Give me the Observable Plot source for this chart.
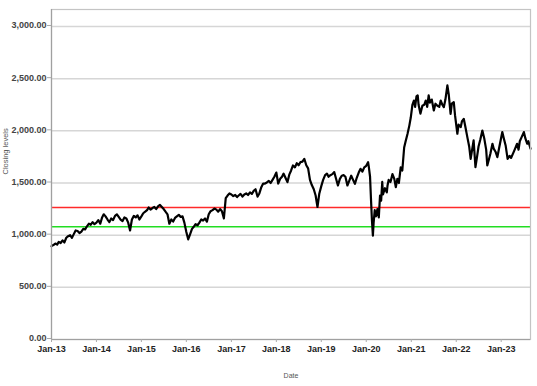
<!DOCTYPE html>
<html>
<head>
<meta charset="utf-8">
<script src="https://cdn.jsdelivr.net/npm/d3@7"></script>
<script src="https://cdn.jsdelivr.net/npm/@observablehq/plot@0.6"></script>
<style>
  html, body { margin: 0; padding: 0; background: #fff; }
</style>
</head>
<body>
<div id="chart"></div>
<script>
// ---- data ----
const dates = [
  // 2013
  "2013-01-01","2013-01-16","2013-02-01","2013-02-16","2013-03-01","2013-03-16","2013-04-01","2013-04-16","2013-05-01","2013-05-16","2013-06-01","2013-06-16","2013-07-01","2013-07-16","2013-08-01","2013-08-16","2013-09-01","2013-09-16","2013-10-01","2013-10-16","2013-11-01","2013-11-16","2013-12-01","2013-12-16",
  // 2014
  "2014-01-01","2014-01-16","2014-02-01","2014-02-16","2014-03-01","2014-03-16","2014-04-01","2014-04-16","2014-05-01","2014-05-16","2014-06-01","2014-06-16","2014-07-01","2014-07-16","2014-08-01","2014-08-16","2014-09-01","2014-09-16","2014-10-01","2014-10-16","2014-11-01","2014-11-16","2014-12-01","2014-12-16",
  // 2015
  "2015-01-01","2015-01-16","2015-02-01","2015-02-16","2015-03-01","2015-03-16","2015-04-01","2015-04-16","2015-05-01","2015-05-16","2015-06-01","2015-06-16","2015-07-01","2015-07-16","2015-08-01","2015-08-16","2015-09-01","2015-09-16","2015-10-01","2015-10-16","2015-11-01","2015-11-16","2015-12-01","2015-12-16",
  // 2016
  "2016-01-01","2016-01-16","2016-02-01","2016-02-16","2016-03-01","2016-03-16","2016-04-01","2016-04-16","2016-05-01","2016-05-16","2016-06-01","2016-06-16","2016-07-01","2016-07-16","2016-08-01","2016-08-16","2016-09-01","2016-09-16","2016-10-01","2016-10-16","2016-11-01","2016-11-16","2016-12-01","2016-12-16",
  // 2017
  "2017-01-01","2017-01-16","2017-02-01","2017-02-16","2017-03-01","2017-03-16","2017-04-01","2017-04-16","2017-05-01","2017-05-16","2017-06-01","2017-06-16","2017-07-01","2017-07-16","2017-08-01","2017-08-16","2017-09-01","2017-09-16","2017-10-01","2017-10-16","2017-11-01","2017-11-16","2017-12-01","2017-12-16",
  // 2018
  "2018-01-01","2018-01-16","2018-02-01","2018-02-16","2018-03-01","2018-03-16","2018-04-01","2018-04-16","2018-05-01","2018-05-16","2018-06-01","2018-06-16","2018-07-01","2018-07-16","2018-08-01","2018-08-16","2018-09-01","2018-09-16","2018-10-01","2018-10-16","2018-11-01","2018-11-16","2018-12-01","2018-12-16",
  // 2019
  "2019-01-01","2019-01-16","2019-02-01","2019-02-16","2019-03-01","2019-03-16","2019-04-01","2019-04-16","2019-05-01","2019-05-16","2019-06-01","2019-06-16","2019-07-01","2019-07-16","2019-08-01","2019-08-16","2019-09-01","2019-09-16","2019-10-01","2019-10-16","2019-11-01","2019-11-16","2019-12-01","2019-12-16",
  // 2020
  "2020-01-01","2020-01-16","2020-01-22","2020-02-01","2020-02-08","2020-02-16","2020-02-24","2020-03-01","2020-03-10","2020-03-20","2020-04-01","2020-04-12","2020-04-22","2020-05-01","2020-05-10","2020-05-16","2020-06-01","2020-06-16","2020-06-22","2020-07-01","2020-07-16","2020-08-01","2020-08-16","2020-08-28","2020-09-10","2020-09-22","2020-10-07","2020-10-20","2020-11-04","2020-11-16","2020-12-01","2020-12-16","2020-12-28",
  // 2021
  "2021-01-10","2021-01-22","2021-02-01","2021-02-12","2021-02-22","2021-03-01","2021-03-16","2021-04-01","2021-04-16","2021-04-28","2021-05-10","2021-05-22","2021-06-01","2021-06-16","2021-07-03","2021-07-16","2021-08-01","2021-08-16","2021-08-28","2021-09-10","2021-09-22","2021-10-05","2021-10-21","2021-11-01","2021-11-16","2021-11-26","2021-12-12","2021-12-22",
  // 2022
  "2022-01-10","2022-01-20","2022-02-06","2022-02-16","2022-03-03","2022-03-16","2022-04-01","2022-04-16","2022-04-28","2022-05-10","2022-05-22","2022-06-06","2022-06-20","2022-07-01","2022-07-16","2022-08-01","2022-08-16","2022-09-01","2022-09-10","2022-09-22","2022-10-05","2022-10-22","2022-11-01","2022-11-16","2022-12-01","2022-12-16",
  // 2023
  "2023-01-10","2023-01-22","2023-02-06","2023-02-22","2023-03-10","2023-03-22","2023-04-12","2023-04-24","2023-05-10","2023-05-22","2023-06-01","2023-06-16","2023-07-04","2023-07-16","2023-07-31","2023-08-10","2023-08-27"
];
const closes = [
  // 2013
  895, 905, 920, 910, 935, 925, 950, 930, 975, 990, 1000, 975, 1010, 1045, 1040, 1020, 1035, 1060, 1055, 1085, 1110, 1100, 1125, 1105,
  // 2014
  1120, 1145, 1110, 1170, 1200, 1180, 1150, 1125, 1160, 1145, 1185, 1200, 1175, 1150, 1135, 1170, 1160, 1120, 1045, 1150, 1185, 1170, 1190, 1150,
  // 2015
  1180, 1210, 1225, 1240, 1265, 1245, 1260, 1270, 1250, 1275, 1290, 1270, 1250, 1225, 1200, 1110, 1150, 1130, 1165, 1180, 1195, 1175, 1180, 1120,
  // 2016
  1030, 960, 1010, 1060, 1080, 1105, 1095, 1120, 1150, 1140, 1160, 1130, 1200, 1230, 1240, 1255, 1245, 1225, 1250, 1230, 1160, 1355, 1380, 1400,
  // 2017
  1390, 1375, 1385, 1365, 1380, 1395, 1370, 1390, 1400, 1385, 1410, 1395, 1425, 1440, 1370, 1400, 1460, 1495, 1495, 1505, 1520, 1500, 1530, 1560,
  // 2018
  1600, 1495, 1540, 1560, 1590, 1550, 1508, 1580, 1620, 1668, 1650, 1690, 1670, 1700, 1705, 1732, 1670, 1640, 1530, 1480, 1440, 1380, 1270, 1400,
  // 2019
  1470, 1530, 1575, 1590, 1560, 1575, 1585, 1605, 1540, 1476, 1540, 1570, 1575, 1560, 1476, 1520, 1570, 1530, 1492, 1550, 1600, 1636, 1610, 1650,
  // 2020
  1665, 1700, 1655, 1560, 1360, 1150, 995, 1120, 1240, 1180, 1250, 1170, 1380, 1330, 1510, 1390, 1450, 1410, 1476, 1530, 1510, 1585, 1540, 1460, 1540, 1500, 1650, 1620, 1840, 1900, 1970, 2050, 2130,
  // 2021
  2250, 2290, 2230, 2330, 2340, 2250, 2165, 2240, 2250, 2290, 2230, 2340, 2270, 2300, 2195, 2260, 2240, 2230, 2290, 2250, 2227, 2300, 2435, 2350, 2163, 2260, 2275, 2150,
  // 2022
  1972, 2060, 2035, 2090, 2115, 2040, 1940, 1850, 1732, 1820, 1908, 1652, 1760, 1850, 1920, 2003, 1930, 1820, 1668, 1720, 1780, 1876, 1830, 1800, 1748, 1840,
  // 2023
  1988, 1930, 1860, 1732, 1760, 1740, 1796, 1830, 1876, 1820, 1900, 1940, 1988, 1930, 1876, 1900, 1828
];
const upperLevel = 1265;   // red horizontal line
const lowerLevel = 1080;   // green horizontal line
const yTicks = [0, 500, 1000, 1500, 2000, 2500, 3000];
const xTickDates = ["2013-01-01","2014-01-01","2015-01-01","2016-01-01","2017-01-01","2018-01-01","2019-01-01","2020-01-01","2021-01-01","2022-01-01","2023-01-01"];
const xDomain = ["2013-01-01", "2023-08-27"];
const yDomain = [0, 3163];
const xTitle = "Date";
const yTitle = "Closing levels";

// ---- build ----
const parse = d3.utcParse("%Y-%m-%d");
const data = dates.map((d, i) => ({date: parse(d), close: closes[i]}));
const xTicks = xTickDates.map(parse);

const chart = Plot.plot({
  width: 537,
  height: 386,
  marginLeft: 51,
  marginRight: 7,
  marginTop: 9,
  marginBottom: 47,
  style: {fontFamily: "'Liberation Sans', Arial, sans-serif", fontSize: "9px", background: "#fff", color: "#333"},
  x: {type: "utc", domain: xDomain.map(parse)},
  y: {domain: yDomain},
  marks: [
    Plot.gridY(yTicks, {stroke: "#d6d6d6", strokeOpacity: 1, strokeWidth: 1.5}),
    Plot.ruleY([upperLevel], {stroke: "#ff2a2a", strokeWidth: 1.6}),
    Plot.ruleY([lowerLevel], {stroke: "#22dd22", strokeWidth: 1.6}),
    Plot.lineY(data, {x: "date", y: "close", stroke: "#000", strokeWidth: 2.2, strokeLinejoin: "round"}),
    Plot.frame({stroke: "#c4c4c4", strokeWidth: 1.2}),
    Plot.ruleX([parse(xDomain[0])], {stroke: "#a0a0a0", strokeWidth: 1.2}),
    Plot.ruleY([0], {stroke: "#a0a0a0", strokeWidth: 1.2}),
    Plot.axisY(yTicks, {
      tickFormat: d3.format(",.2f"), tickSize: 4, tickPadding: 1, dy: -1,
      stroke: "#aaa", fill: "#444", fontWeight: "bold", label: null
    }),
    Plot.axisX(xTicks, {
      tickFormat: d3.utcFormat("%b-%y"), tickSize: 3, tickPadding: 3,
      stroke: "#aaa", fill: "#222", fontWeight: "bold", label: null
    }),
    Plot.text([xTitle], {frameAnchor: "bottom", dy: 38, fontSize: 7, fill: "#555"}),
    Plot.text([yTitle], {frameAnchor: "left", dx: -46, rotate: -90, fontSize: 7.5, fill: "#555"})
  ]
});
document.getElementById("chart").appendChild(chart);
</script>
</body>
</html>
